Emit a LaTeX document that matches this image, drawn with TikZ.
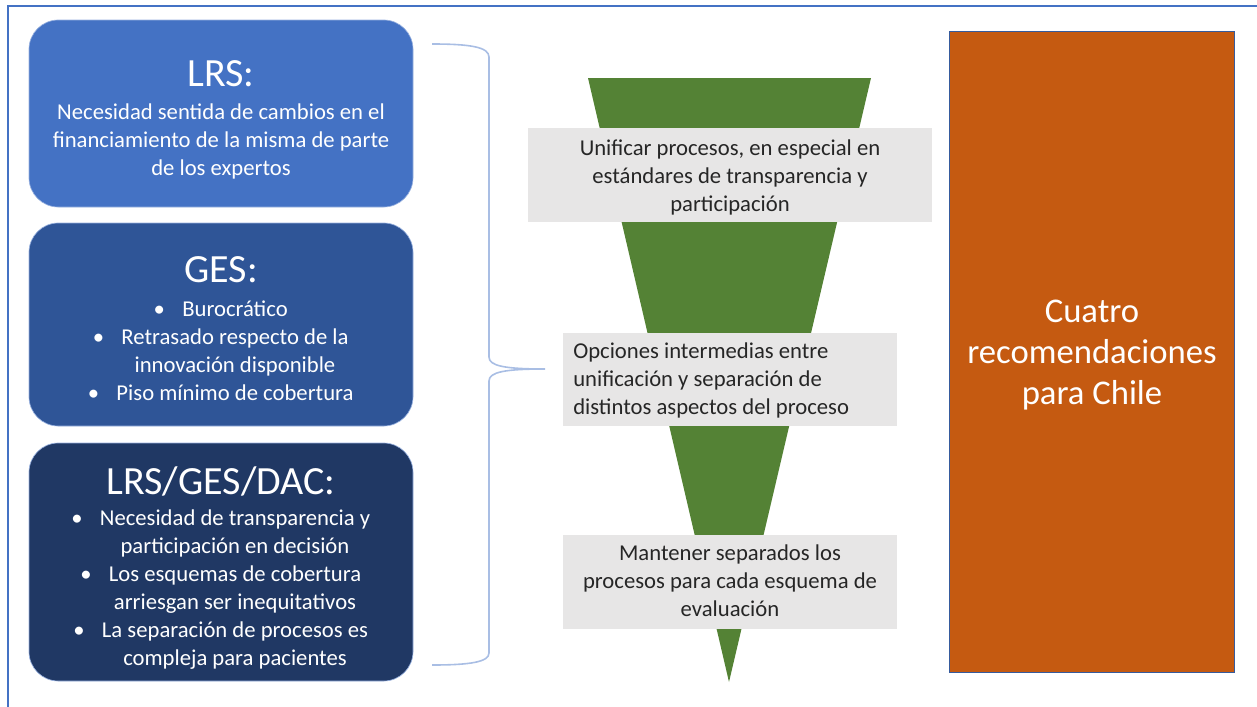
\documentclass[tikz,border=0pt]{standalone}
\usepackage{fontspec}
\setmainfont{Carlito}
\usepackage{tikz}

\definecolor{lrsblue}{HTML}{4472C4}
\definecolor{gesblue}{HTML}{2F5597}
\definecolor{dacblue}{HTML}{203864}
\definecolor{funnelgreen}{HTML}{548235}
\definecolor{optgrey}{HTML}{E7E6E6}
\definecolor{chileorange}{HTML}{C55A11}
\definecolor{bracecol}{HTML}{A9BEE4}

\tikzset{
  srcbox/.style={rounded corners=22pt, draw=lrsblue!55, line width=0.5pt, minimum width=288pt, inner sep=0pt},
  head/.style={text=white, anchor=base, font=\fontsize{30}{36}\selectfont},
  body/.style={text=white, align=center, inner sep=0pt, font=\fontsize{17}{21}\selectfont},
  optbox/.style={fill=optgrey, inner sep=0pt},
  opttext/.style={text=black!85, inner sep=0pt, font=\fontsize{17}{21}\selectfont},
}
\newcommand{\bul}{\llap{•\hspace{13pt}}}

\begin{document}
\begin{tikzpicture}[x=0.75pt,y=-0.75pt]
   \useasboundingbox (0,0) rectangle (1257,707);
   \draw[lrsblue, line width=1.5pt] (1262,6) -- (8,6) -- (8,712);

   % left column
   \node[srcbox, fill=lrsblue, minimum height=140.25pt] (lrs) at (221,113.5) {};
   \node[head] (lrshead) at (221,86) {LRS:};
   \node[body] (lrsbody) at (221,141) {Necesidad sentida de cambios en el\\financiamiento de la misma de parte\\de los expertos};

   \node[srcbox, fill=gesblue, minimum height=152.25pt] (ges) at (221,324.5) {};
   \node[head] (geshead) at (221,282) {GES:};
   \node[body] (gesbody) at (235,351) {\bul Burocrático\\\bul Retrasado respecto de la\\innovación disponible\\\bul Piso mínimo de cobertura};

   \node[srcbox, fill=dacblue, minimum height=178.5pt] (dac) at (221,562) {};
   \node[head] (dachead) at (221,494) {LRS/GES/DAC:};
   \node[body] (dacbody) at (235,590) {\bul Necesidad de transparencia y\\participación en decisión\\\bul Los esquemas de cobertura\\arriesgan ser inequitativos\\\bul La separación de procesos es\\compleja para pacientes};

   \coordinate (bracetop) at (432,44);
   \coordinate (bracetip) at (545,369);
   \coordinate (bracebot) at (432,665);
   \draw[bracecol, line width=1.2pt] (bracetop) .. controls (470,44) and (489,47) .. (489,57) -- (489,357)
      .. controls (489,366) and (505,369) .. (bracetip)
      .. controls (505,369) and (489,372) .. (489,381) -- (489,653)
      .. controls (489,662) and (470,665) .. (bracebot);

   % funnel
   \fill[funnelgreen] (588,78) -- (871,78) -- (729,682) -- cycle;

   \node[optbox, minimum width=303pt, minimum height=70.5pt] (uni) at (730,175) {};
   \node[opttext, align=center] (unitext) at (730,177) {Unificar procesos, en especial en\\estándares de transparencia y\\participación};

   \node[optbox, minimum width=250.5pt, minimum height=69.75pt] (mid) at (730,379.5) {};
   \node[opttext, align=left, anchor=west] (midtext) at (573,380) {Opciones intermedias entre\\unificación y separación de\\distintos aspectos del proceso};

   \node[optbox, minimum width=250.5pt, minimum height=70.5pt] (sep) at (730,582) {};
   \node[opttext, align=center] (septext) at (730,581) {Mantener separados los\\procesos para cada esquema de\\evaluación};

   % right column
   \node[fill=chileorange, draw=lrsblue!80!black, line width=0.5pt, minimum width=213.75pt, minimum height=480.75pt] (chile) at (1091.5,351.5) {};
   \node[text=white, align=center, inner sep=0pt, font=\fontsize{26}{31}\selectfont] (chiletext) at (1092,355) {Cuatro\\recomendaciones\\para Chile};
\end{tikzpicture}
\end{document}
